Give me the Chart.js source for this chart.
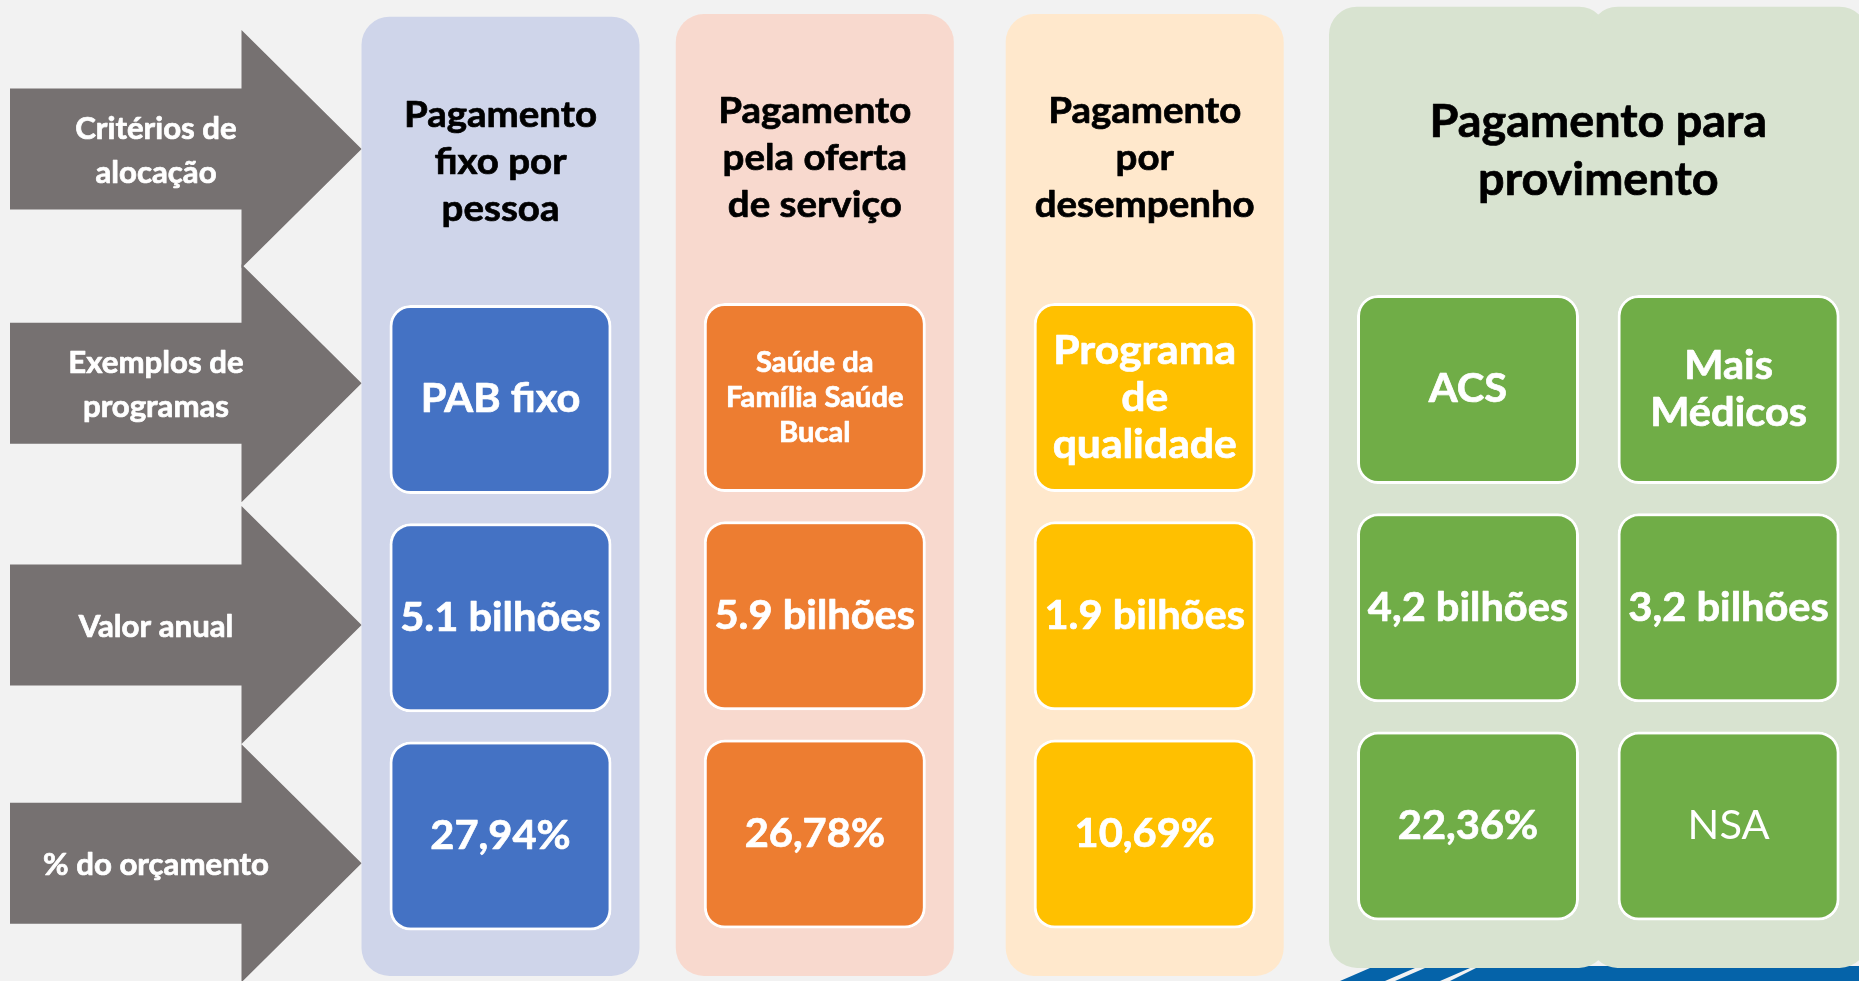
<!DOCTYPE html>
<html><head><meta charset="utf-8">
<script src="https://cdn.jsdelivr.net/npm/chart.js@4.4.1/dist/chart.umd.min.js"></script>
<style>html,body{margin:0;padding:0;background:#f2f2f2;overflow:hidden}#wrap{position:relative;width:1859px;height:981px}</style>
</head><body><div id="wrap"><canvas id="c"></canvas></div>
<script>
// ---------- DATA ----------
const linhas = ['Critérios de\nalocação', 'Exemplos de\nprogramas', 'Valor anual', '% do orçamento'];
const criterios = ['Pagamento\nfixo por\npessoa', 'Pagamento\npela oferta\nde serviço', 'Pagamento\npor\ndesempenho', 'Pagamento para\nprovimento'];
const programas = ['PAB fixo', 'Saúde da\nFamília Saúde\nBucal', 'Programa\nde\nqualidade', 'ACS', 'Mais\nMédicos'];
const criterioDoPrograma = [0, 1, 2, 3, 3];
const valorAnualBilhoes = [5.1, 5.9, 1.9, 4.2, 3.2];
const separadorDecimal = ['.', '.', '.', ',', ','];
const percentualOrcamento = [27.94, 26.78, 10.69, 22.36, null];
const unidadeValor = 'bilhões';
const semValor = 'NSA';

// ---------- LAYOUT / STYLE ----------
const W = 1859, H = 981;
const centroX = [500.5, 814.8, 1144.7, 1468, 1728.6];
const painelTopo = [16.7, 14, 14, 6.7, 6.7];
const painelBase = [976, 976, 976, 968, 968];
const painelLargura = 278, caixaLargura = 222, caixaAltura = 189, passoLinha = 218.3;
const caixaTopo = [305, 303, 303, 295, 295];
const corPainel = ['#cfd5ea', '#f8d9ce', '#ffe8cc', '#d8e3d0', '#d8e3d0'];
const corCaixa = ['#4472c4', '#ed7d31', '#ffc000', '#70ad47', '#70ad47'];
const setaCentroY = [149, 383.3, 625, 863.3];
const setaX = {esq: 10, pescoco: 241.5, ponta: 361.6}, setaCorpo = 60.5, setaCabeca = 119;
const corSeta = '#767171';
const tituloY = [162, 158.3, 158.3, 151], tituloPasso = [47, 47, 47, 58], tituloFonte = [37, 37, 37, 45];
const exemploFonte = [40, 28, 41, 40, 40], exemploPasso = [47, 35, 47, 47, 47];
const caixaFonte = 40, setaFonte = 30;
const STRETCH = 1.04;
const FONT = 'Lato';

// ---------- DATASETS ----------
const datasets = [];
datasets.push({
  type: 'bar', label: 'painéis', order: 5, grouped: false,
  data: centroX.map((x, i) => ({x, y: [painelTopo[i], painelBase[i]]})),
  backgroundColor: corPainel, barThickness: painelLargura, borderRadius: 28,
  borderSkipped: false, borderWidth: 0, inflateAmount: 0
});
[0, 1, 2].forEach(r => {
  datasets.push({
    type: 'bar', label: linhas[r + 1], order: 1, grouped: false,
    data: centroX.map((x, i) => ({x, y: [caixaTopo[i] + r * passoLinha, caixaTopo[i] + r * passoLinha + caixaAltura]})),
    backgroundColor: corCaixa, borderColor: '#ffffff', borderWidth: 3,
    barThickness: caixaLargura, borderRadius: 21, borderSkipped: false, inflateAmount: 0
  });
});
setaCentroY.forEach((c, i) => {
  const mk = s => [
    {x: setaX.esq, y: c + s * setaCorpo}, {x: setaX.pescoco, y: c + s * setaCorpo},
    {x: setaX.pescoco, y: c + s * setaCabeca}, {x: setaX.ponta, y: c}];
  datasets.push({type: 'line', label: linhas[i], order: 2, data: mk(-1), fill: '+1',
    backgroundColor: corSeta, borderColor: 'rgba(0,0,0,0)', borderWidth: 1, pointRadius: 0, tension: 0});
  datasets.push({type: 'line', label: linhas[i] + ' ', order: 2, data: mk(1), fill: false,
    backgroundColor: corSeta, borderColor: 'rgba(0,0,0,0)', borderWidth: 1, pointRadius: 0, tension: 0});
});

// ---------- TEXT ----------
function texto(ctx, str, x, y, size, weight, color, spacing) {
  const ls = str.split('\n');
  ctx.font = `${weight} ${size}px ${FONT}`;
  ctx.fillStyle = color; ctx.strokeStyle = color; ctx.lineWidth = 0.7; ctx.lineJoin = 'round';
  ctx.textAlign = 'center'; ctx.textBaseline = 'middle';
  ls.forEach((ln, i) => {
    const yy = y + (i - (ls.length - 1) / 2) * spacing;
    ctx.save(); ctx.translate(x, yy); ctx.scale(STRETCH, 1);
    ctx.fillText(ln, 0, 0);
    if (weight === 'bold') ctx.strokeText(ln, 0, 0);
    ctx.restore();
  });
}
const fmtValor = i => valorAnualBilhoes[i].toFixed(1).replace('.', separadorDecimal[i]) + ' ' + unidadeValor;
const fmtPct = i => percentualOrcamento[i] == null ? semValor : percentualOrcamento[i].toFixed(2).replace('.', ',') + '%';

const fundo = {
  id: 'fundo',
  beforeDatasetsDraw(chart) {
    const {ctx, scales: {x, y}} = chart;
    ctx.save();
    ctx.fillStyle = '#0563a9';
    const poly = pts => { ctx.beginPath(); pts.forEach((p, k) => k ? ctx.lineTo(x.getPixelForValue(p[0]), y.getPixelForValue(p[1])) : ctx.moveTo(x.getPixelForValue(p[0]), y.getPixelForValue(p[1]))); ctx.closePath(); ctx.fill(); };
    poly([[1340, 981], [1385, 981], [1415, 968], [1370, 968]]);
    poly([[1395, 981], [1440, 981], [1470, 968], [1425, 968]]);
    poly([[1450, 981], [1859, 981], [1859, 966], [1480, 966]]);
    ctx.restore();
  },
  afterDatasetsDraw(chart) {
    const {ctx, scales: {x, y}} = chart;
    ctx.save();
    linhas.forEach((t, i) => texto(ctx, t, x.getPixelForValue(156), y.getPixelForValue(setaCentroY[i] + 2), setaFonte, 'bold', '#ffffff', 44));
    criterios.forEach((t, c) => {
      const idx = criterioDoPrograma.map((k, i) => k === c ? i : -1).filter(i => i >= 0);
      const cx = idx.reduce((s, i) => s + centroX[i], 0) / idx.length;
      texto(ctx, t, x.getPixelForValue(cx), y.getPixelForValue(tituloY[c]), tituloFonte[c], 'bold', '#000000', tituloPasso[c]);
    });
    programas.forEach((p, i) => {
      const px = x.getPixelForValue(centroX[i]);
      const cy = r => y.getPixelForValue(caixaTopo[i] + r * passoLinha + caixaAltura / 2);
      texto(ctx, p, px, cy(0), exemploFonte[i], 'bold', '#ffffff', exemploPasso[i]);
      texto(ctx, fmtValor(i), px, cy(1), caixaFonte, 'bold', '#ffffff', 47);
      texto(ctx, fmtPct(i), px, cy(2), caixaFonte, percentualOrcamento[i] == null ? 'normal' : 'bold', '#ffffff', 47);
    });
    ctx.restore();
  }
};

function draw() {
  new Chart(document.getElementById('c'), {
    type: 'bar',
    data: {datasets},
    options: {
      responsive: true, maintainAspectRatio: false, animation: false, events: [],
      layout: {padding: 0},
      plugins: {legend: {display: false}, tooltip: {enabled: false}},
      scales: {
        x: {type: 'linear', min: 0, max: W, display: false, offset: false},
        y: {type: 'linear', min: 0, max: H, reverse: true, display: false}
      }
    },
    plugins: [fundo]
  });
}
Promise.race([
  Promise.all([document.fonts.load(`bold 28px ${FONT}`), document.fonts.load(`normal 28px ${FONT}`)]),
  new Promise(r => setTimeout(r, 1500))
]).then(draw, draw);
</script></body></html>
